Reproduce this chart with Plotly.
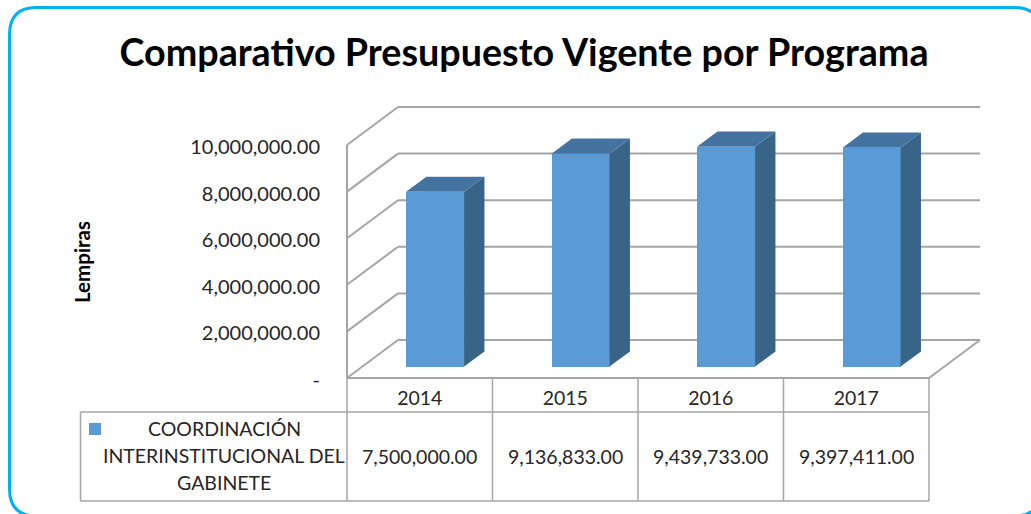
import plotly.graph_objects as go

TITLE = "Comparativo Presupuesto Vigente por Programa"
YEARS = ["2014", "2015", "2016", "2017"]
SERIES_LINES = ["COORDINACIÓN", "INTERINSTITUCIONAL DEL", "GABINETE"]
VALUES = [7500000.00, 9136833.00, 9439733.00, 9397411.00]
TICK_VALUES = [0, 2000000, 4000000, 6000000, 8000000, 10000000]
TICK_LABELS = ["-", "2,000,000.00", "4,000,000.00", "6,000,000.00", "8,000,000.00", "10,000,000.00"]

W, H = 1031, 514
FONT = "Lato"
TEXT = "#262626"
GRID = "#A6A6A6"
FRONT, SIDE, TOP = "#5B9BD5", "#386488", "#4473A0"

# plot-frame geometry (pixels)
L, R, B, T, FRONT_R = 347, 980, 378, 108, 929
PAD = 6   # plot area extends past the frame so edge lines are not clipped
px_per_cat = (FRONT_R - L) / len(YEARS)
val_per_px = TICK_VALUES[-1] / 233
DX = (R - FRONT_R) / px_per_cat      # wall depth in category units
DY = (B - 340) * val_per_px          # wall depth in value units
BAR_W = 58 / px_per_cat
F0, F1 = 0.30, 0.70                  # bar front/back position in the depth


def px(x):
    return x / W


def py(y):
    return 1 - y / H


fig = go.Figure()
xs = [i + 0.5 + F0 * DX for i in range(len(YEARS))]
fig.add_trace(go.Bar(x=xs, y=VALUES, base=[F0 * DY] * len(VALUES), width=BAR_W,
                     marker=dict(color=FRONT, line=dict(width=0)), hoverinfo="skip", showlegend=False))

d = (F1 - F0) * DX
dv = (F1 - F0) * DY
for xc, v in zip(xs, VALUES):
    xr = xc + BAR_W / 2
    xl = xc - BAR_W / 2
    bot = F0 * DY
    top = bot + v
    fig.add_trace(go.Scatter(x=[xr, xr + d, xr + d, xr, xr], y=[bot, bot + dv, top + dv, top, bot],
                             mode="lines", fill="toself", fillcolor=SIDE, line=dict(width=0),
                             hoverinfo="skip", showlegend=False))
    fig.add_trace(go.Scatter(x=[xl, xl + d, xr + d, xr, xl], y=[top, top + dv, top + dv, top, top],
                             mode="lines", fill="toself", fillcolor=TOP, line=dict(width=0),
                             hoverinfo="skip", showlegend=False))

n = len(YEARS)
shapes = []


def seg(x0, y0, x1, y1, width=2, color=GRID):
    shapes.append(dict(type="line", xref="x", yref="y", x0=x0, y0=y0, x1=x1, y1=y1,
                       layer="below", line=dict(color=color, width=width)))


for v in TICK_VALUES:
    seg(DX, v + DY, n + DX, v + DY)      # back wall
    seg(0, v, DX, v + DY)                # side wall
seg(0, 0, 0, TICK_VALUES[-1])            # front-left edge
seg(0, 0, n, 0)                          # floor front
seg(n, 0, n + DX, DY)                    # floor right

# data table lines
TBL_L, TBL_T, TBL_B = 80.5, 412, 501
for i in range(n + 1):
    shapes.append(dict(type="line", xref="x", yref="paper", x0=i, x1=i, y0=py(B), y1=py(TBL_B),
                       line=dict(color=GRID, width=1.5)))
for y in (TBL_T, TBL_B):
    shapes.append(dict(type="line", xref="paper", yref="paper", x0=px(TBL_L), x1=px(FRONT_R),
                       y0=py(y), y1=py(y), line=dict(color=GRID, width=1.5)))
shapes.append(dict(type="line", xref="paper", yref="paper", x0=px(TBL_L), x1=px(TBL_L),
                   y0=py(TBL_T), y1=py(TBL_B), line=dict(color=GRID, width=1.5)))
# legend key
shapes.append(dict(type="rect", xref="paper", yref="paper", x0=px(89), x1=px(101), y0=py(435), y1=py(423),
                   fillcolor=FRONT, line=dict(width=0)))
# outer rounded frame
fx0, fy0, fx1, fy1, r = 9.5, 7.5, 1041, 516, 27
path = (f"M {px(fx0+r)} {py(fy0)} L {px(fx1-r)} {py(fy0)} "
        f"Q {px(fx1)} {py(fy0)} {px(fx1)} {py(fy0+r)} L {px(fx1)} {py(fy1-r)} "
        f"Q {px(fx1)} {py(fy1)} {px(fx1-r)} {py(fy1)} L {px(fx0+r)} {py(fy1)} "
        f"Q {px(fx0)} {py(fy1)} {px(fx0)} {py(fy1-r)} L {px(fx0)} {py(fy0+r)} "
        f"Q {px(fx0)} {py(fy0)} {px(fx0+r)} {py(fy0)} Z")
shapes.append(dict(type="path", xref="paper", yref="paper", path=path, line=dict(color="#00B0F0", width=3)))

TBL_FONT = dict(family=FONT, size=19.5, color=TEXT)
annotations = []
for i, v in enumerate(VALUES):
    annotations.append(dict(x=i + 0.5, y=py(456), xref="x", yref="paper", text=f"{v:,.2f}", showarrow=False,
                            font=TBL_FONT, xanchor="center", yanchor="middle"))
for line, y in zip(SERIES_LINES, (428.5, 455.5, 482.5)):
    annotations.append(dict(x=px(224), y=py(y), xref="paper", yref="paper", text=line, showarrow=False,
                            font=TBL_FONT, xanchor="center", yanchor="middle"))
annotations.append(dict(x=px(82), y=py(262), xref="paper", yref="paper", text="<b>Lempiras</b>", textangle=-90,
                        showarrow=False, font=dict(family=FONT, size=20.5, color="#000000"),
                        xanchor="center", yanchor="middle"))

fig.update_layout(
    width=W, height=H, margin=dict(l=0, r=0, t=0, b=0, autoexpand=False), autosize=False,
    paper_bgcolor="#FFFFFF", plot_bgcolor="rgba(0,0,0,0)",
    title=dict(text=f"<b>{TITLE}</b>", x=px(524), y=py(53), xref="paper", yref="paper",
               xanchor="center", yanchor="middle", font=dict(family=FONT, size=37.7, color="#000000")),
    xaxis=dict(domain=[px(L - PAD), px(R + PAD)], range=[-PAD / px_per_cat, n + DX + PAD / px_per_cat],
               tickmode="array", tickvals=[i + 0.5 for i in range(n)],
               ticktext=YEARS, showgrid=False, zeroline=False, showline=False, ticks="",
               ticklabelstandoff=0, tickfont=TBL_FONT),
    yaxis=dict(domain=[py(B + PAD), py(T - PAD)], range=[-PAD * val_per_px, (B - T + PAD) * val_per_px],
               tickmode="array", tickvals=TICK_VALUES,
               ticktext=TICK_LABELS, showgrid=False, zeroline=False, showline=False, ticks="",
               ticklabelstandoff=20, ticklabelshift=2, tickfont=dict(family=FONT, size=20, color=TEXT)),
    shapes=shapes, annotations=annotations, bargap=0, showlegend=False,
)
fig.write_html("out.html", config=dict(displayModeBar=False),
               post_script="document.body.style.margin='0';document.documentElement.style.overflow='hidden';")
